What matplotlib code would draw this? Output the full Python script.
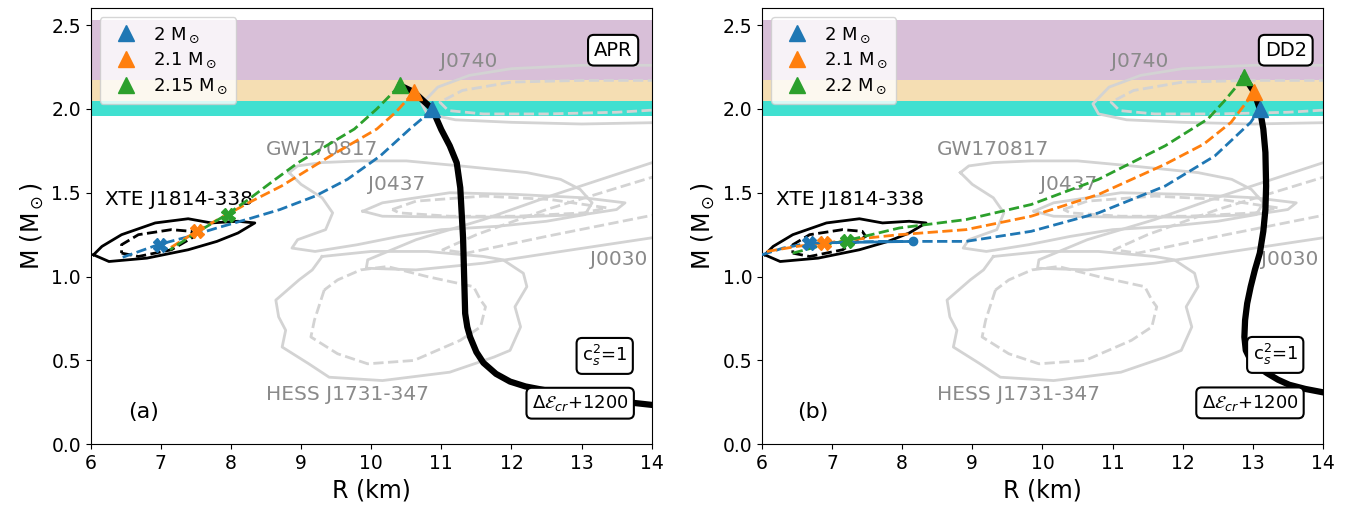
import matplotlib
matplotlib.use("Agg")
import matplotlib.pyplot as plt

# observational bands (M range)
band_lo = [2.17, 2.05, 1.96]
band_hi = [2.53, 2.17, 2.05]
band_col = ["thistle", "wheat", "turquoise"]

# EoS branches (thick black)
apr_R = [10.41, 10.61, 10.87, 11.0, 11.12, 11.22, 11.27, 11.29, 11.31, 11.32, 11.34, 11.37, 11.41,
         11.5, 11.6, 11.78, 11.98, 12.2, 12.46, 13.0, 13.5, 14.0]
apr_M = [2.14, 2.10, 2.00, 1.876, 1.78, 1.678, 1.53, 1.38, 1.23, 1.08, 0.78, 0.70, 0.64,
         0.55, 0.486, 0.42, 0.374, 0.345, 0.324, 0.285, 0.258, 0.235]
dd2_R = [12.88, 13.02, 13.10, 13.15, 13.18, 13.19, 13.18, 13.15, 13.10, 13.03, 12.97, 12.92, 12.89,
         12.88, 12.90, 12.97, 13.08, 13.20, 13.36, 13.52, 13.75, 14.0]
dd2_M = [2.19, 2.10, 2.00, 1.88, 1.74, 1.54, 1.40, 1.27, 1.14, 1.04, 0.94, 0.84, 0.74,
         0.64, 0.56, 0.50, 0.46, 0.425, 0.385, 0.355, 0.33, 0.31]

# hybrid branches, panel (a)
a_blue_R = [10.87, 10.72, 10.55, 10.13, 9.66, 9.20, 8.70, 8.30, 7.80, 7.41, 6.96, 6.42]
a_blue_M = [2.00, 1.94, 1.88, 1.72, 1.58, 1.48, 1.40, 1.35, 1.29, 1.24, 1.19, 1.11]
a_orng_R = [10.61, 10.35, 10.08, 9.42, 8.72, 8.25, 7.90, 7.51, 7.13]
a_orng_M = [2.10, 1.98, 1.88, 1.72, 1.54, 1.44, 1.36, 1.27, 1.17]
a_gren_R = [10.41, 10.08, 9.76, 8.96, 8.60, 8.25, 7.94, 7.50, 7.13]
a_gren_M = [2.14, 2.00, 1.88, 1.68, 1.57, 1.46, 1.37, 1.26, 1.16]
a_cross_R = [6.99, 7.52, 7.96]
a_cross_M = [1.19, 1.27, 1.37]

# hybrid branches, panel (b)
b_blue_R = [6.0, 6.3, 6.67, 7.2, 7.7, 8.16, 8.91, 9.84, 10.8, 11.75, 12.46, 12.97, 13.1]
b_blue_M = [1.13, 1.17, 1.20, 1.205, 1.21, 1.21, 1.21, 1.27, 1.38, 1.54, 1.72, 1.92, 2.00]
b_orng_R = [6.07, 6.5, 6.89, 7.5, 7.96, 8.91, 9.84, 10.8, 11.75, 12.3, 12.69, 13.02]
b_orng_M = [1.15, 1.18, 1.20, 1.23, 1.25, 1.28, 1.36, 1.49, 1.67, 1.79, 1.92, 2.10]
b_gren_R = [6.44, 6.8, 7.21, 7.96, 8.91, 9.84, 10.8, 11.75, 12.36, 12.6, 12.88]
b_gren_M = [1.14, 1.18, 1.215, 1.29, 1.34, 1.43, 1.58, 1.78, 1.94, 2.05, 2.19]
b_cross_R = [6.67, 6.89, 7.21]
b_cross_M = [1.20, 1.20, 1.215]
b_solid_R = [6.67, 8.16]
b_solid_M = [1.20, 1.21]

# XTE J1814-338 contours
xte_R = [6.04, 6.26, 6.8, 7.39, 7.8, 8.1, 8.34, 8.1, 7.72, 7.39, 6.92, 6.44, 6.16, 6.04]
xte_M = [1.13, 1.09, 1.11, 1.16, 1.21, 1.26, 1.32, 1.33, 1.32, 1.345, 1.32, 1.25, 1.18, 1.13]
xte_in_R = [6.44, 6.68, 7.15, 7.48, 7.43, 7.15, 6.68, 6.44, 6.44]
xte_in_M = [1.14, 1.12, 1.16, 1.24, 1.27, 1.28, 1.25, 1.19, 1.14]

# grey observational contours
j0740_R = [14.3, 13.0, 12.0, 11.4, 10.95, 10.72, 10.8, 11.2, 12.0, 13.0, 14.3]
j0740_M = [2.26, 2.26, 2.24, 2.20, 2.13, 2.03, 1.97, 1.935, 1.92, 1.91, 1.92]
j0740_in_R = [14.3, 13.0, 12.0, 11.3, 10.98, 11.1, 11.6, 12.5, 13.5, 14.3]
j0740_in_M = [2.17, 2.17, 2.16, 2.11, 2.04, 1.99, 1.97, 1.97, 1.98, 2.00]
gw_R = [8.83, 8.95, 9.3, 9.85, 10.5, 11.27, 12.22, 12.7, 12.98, 13.15, 13.05, 12.5, 11.8, 11.0, 10.4,
        9.8, 9.2, 8.87, 8.95, 9.35, 9.45, 9.3, 9.0, 8.83]
gw_M = [1.62, 1.66, 1.68, 1.69, 1.69, 1.66, 1.62, 1.58, 1.52, 1.44, 1.37, 1.33, 1.30, 1.28, 1.24,
        1.19, 1.15, 1.17, 1.22, 1.28, 1.38, 1.47, 1.55, 1.62]
j0437_R = [9.88, 10.16, 11.12, 12.07, 13.03, 13.62, 13.5, 13.03, 12.07, 11.12, 10.16, 9.88]
j0437_M = [1.39, 1.44, 1.50, 1.49, 1.47, 1.44, 1.40, 1.37, 1.355, 1.355, 1.36, 1.39]
j0437_in_R = [10.3, 10.64, 11.6, 12.55, 13.36, 13.03, 12.07, 11.12, 10.4, 10.3]
j0437_in_M = [1.40, 1.45, 1.48, 1.46, 1.41, 1.38, 1.36, 1.36, 1.38, 1.40]
j0030_R = [14.3, 12.55, 11.6, 10.64, 9.95, 9.93, 10.64, 11.6, 12.55, 14.3]
j0030_M = [1.72, 1.48, 1.34, 1.22, 1.10, 1.05, 1.04, 1.08, 1.14, 1.25]
j0030_in_R = [14.3, 12.5, 11.5, 11.02, 11.36, 12.5, 14.3]
j0030_in_M = [1.63, 1.40, 1.25, 1.16, 1.14, 1.24, 1.39]
hess_R = [9.30, 9.16, 8.97, 8.64, 8.68, 8.78, 8.73, 9.11, 9.40, 10.16, 11.12, 11.75, 11.98, 12.13, 12.05,
          12.22, 12.17, 11.88, 11.6, 10.8, 10.0, 9.30]
hess_M = [1.12, 1.04, 0.98, 0.86, 0.76, 0.68, 0.58, 0.48, 0.40, 0.38, 0.43, 0.52, 0.56, 0.70, 0.82,
          0.94, 1.02, 1.10, 1.12, 1.15, 1.15, 1.12]
hess_in_R = [9.33, 9.19, 9.14, 9.52, 9.95, 10.61, 11.27, 11.56, 11.63, 11.56, 11.46, 10.8, 10.23, 9.85, 9.52, 9.33]
hess_in_M = [0.92, 0.74, 0.64, 0.54, 0.48, 0.50, 0.62, 0.70, 0.82, 0.86, 0.94, 1.00, 1.06, 1.04, 0.98, 0.92]

labels_a = ["2 M$_\\odot$", "2.1 M$_\\odot$", "2.15 M$_\\odot$"]
labels_b = ["2 M$_\\odot$", "2.1 M$_\\odot$", "2.2 M$_\\odot$"]
colors = ["tab:blue", "tab:orange", "tab:green"]

fig = plt.figure(figsize=(13.56, 5.15), dpi=100)
ax1 = fig.add_axes([0.0669, 0.1373, 0.4137, 0.8466])
ax2 = fig.add_axes([0.5619, 0.1373, 0.4137, 0.8466])

grey = "#d3d3d3"
tgrey = "#8a8a8a"


def background(ax):
    for lo, hi, c in zip(band_lo, band_hi, band_col):
        ax.axhspan(lo, hi, color=c, lw=0, zorder=0)
    for r, m, ls in [(j0740_R, j0740_M, "-"), (j0740_in_R, j0740_in_M, "--"),
                     (gw_R, gw_M, "-"), (j0437_R, j0437_M, "-"), (j0437_in_R, j0437_in_M, "--"),
                     (j0030_R, j0030_M, "-"), (j0030_in_R, j0030_in_M, "--"),
                     (hess_R, hess_M, "-"), (hess_in_R, hess_in_M, "--")]:
        ax.plot(r, m, color=grey, ls=ls, lw=2, zorder=1)
    ax.plot(xte_R, xte_M, color="k", lw=2, zorder=2)
    ax.plot(xte_in_R, xte_in_M, color="k", ls="--", lw=2, zorder=2)
    ax.text(10.98, 2.28, "J0740", color=tgrey, fontsize=14.5, va="center")
    ax.text(8.5, 1.757, "GW170817", color=tgrey, fontsize=14.5, va="center")
    ax.text(9.96, 1.55, "J0437", color=tgrey, fontsize=14.5, va="center")
    ax.text(13.12, 1.10, "J0030", color=tgrey, fontsize=14.5, va="center")
    ax.text(8.5, 0.298, "HESS J1731-347", color=tgrey, fontsize=14.5, va="center")
    ax.text(6.2, 1.46, "XTE J1814-338", color="k", fontsize=14.5, va="center")
    ax.set_xlim(6, 14)
    ax.set_ylim(0, 2.6)
    ax.set_xlabel("R (km)", fontsize=17)
    ax.set_ylabel("M (M$_\\odot$)", fontsize=17)
    ax.tick_params(labelsize=13.5)


box = dict(boxstyle="round,pad=0.3", fc="white", ec="k", lw=1.5)
leg_kw = dict(loc="upper left", fontsize=13, handletextpad=0.5, borderpad=0.45, labelspacing=0.35)

# panel (a)
background(ax1)
for r, m, c in zip([a_blue_R, a_orng_R, a_gren_R], [a_blue_M, a_orng_M, a_gren_M], colors):
    ax1.plot(r, m, color=c, ls="--", lw=2, zorder=3)
ax1.plot(apr_R, apr_M, color="k", lw=4.5, zorder=4)
for i, c in enumerate(colors):
    ax1.plot(a_cross_R[i], a_cross_M[i], "X", color=c, ms=10, zorder=5)
    j = [2, 1, 0][i]
    ax1.plot(apr_R[j], apr_M[j], "^", color=c, ms=11, ls="none", zorder=6, label=labels_a[i])
ax1.legend(**leg_kw)
ax1.text(13.45, 2.35, "APR", fontsize=14, ha="center", va="center", bbox=box, zorder=7)
ax1.text(13.33, 0.527, "c$_s^2$=1", fontsize=13, ha="center", va="center", bbox=box, zorder=7)
ax1.text(12.98, 0.245, "$\\Delta\\mathcal{E}_{cr}$+1200", fontsize=13, ha="center", va="center", bbox=box, zorder=7)
ax1.text(6.53, 0.19, "(a)", fontsize=16, va="center")

# panel (b)
background(ax2)
for r, m, c in zip([b_blue_R, b_orng_R, b_gren_R], [b_blue_M, b_orng_M, b_gren_M], colors):
    ax2.plot(r, m, color=c, ls="--", lw=2, zorder=3)
ax2.plot(b_solid_R, b_solid_M, color="tab:blue", lw=2, zorder=3)
ax2.plot(b_solid_R[-1], b_solid_M[-1], "o", color="tab:blue", ms=6, zorder=3)
ax2.plot(dd2_R, dd2_M, color="k", lw=4.5, zorder=4)
for i, c in enumerate(colors):
    ax2.plot(b_cross_R[i], b_cross_M[i], "X", color=c, ms=10, zorder=5)
    j = [2, 1, 0][i]
    ax2.plot(dd2_R[j], dd2_M[j], "^", color=c, ms=11, ls="none", zorder=6, label=labels_b[i])
ax2.legend(**leg_kw)
ax2.text(13.47, 2.35, "DD2", fontsize=14, ha="center", va="center", bbox=box, zorder=7)
ax2.text(13.32, 0.533, "c$_s^2$=1", fontsize=13, ha="center", va="center", bbox=box, zorder=7)
ax2.text(12.96, 0.247, "$\\Delta\\mathcal{E}_{cr}$+1200", fontsize=13, ha="center", va="center", bbox=box, zorder=7)
ax2.text(6.5, 0.19, "(b)", fontsize=16, va="center")

fig.savefig("out.png", dpi=100)
